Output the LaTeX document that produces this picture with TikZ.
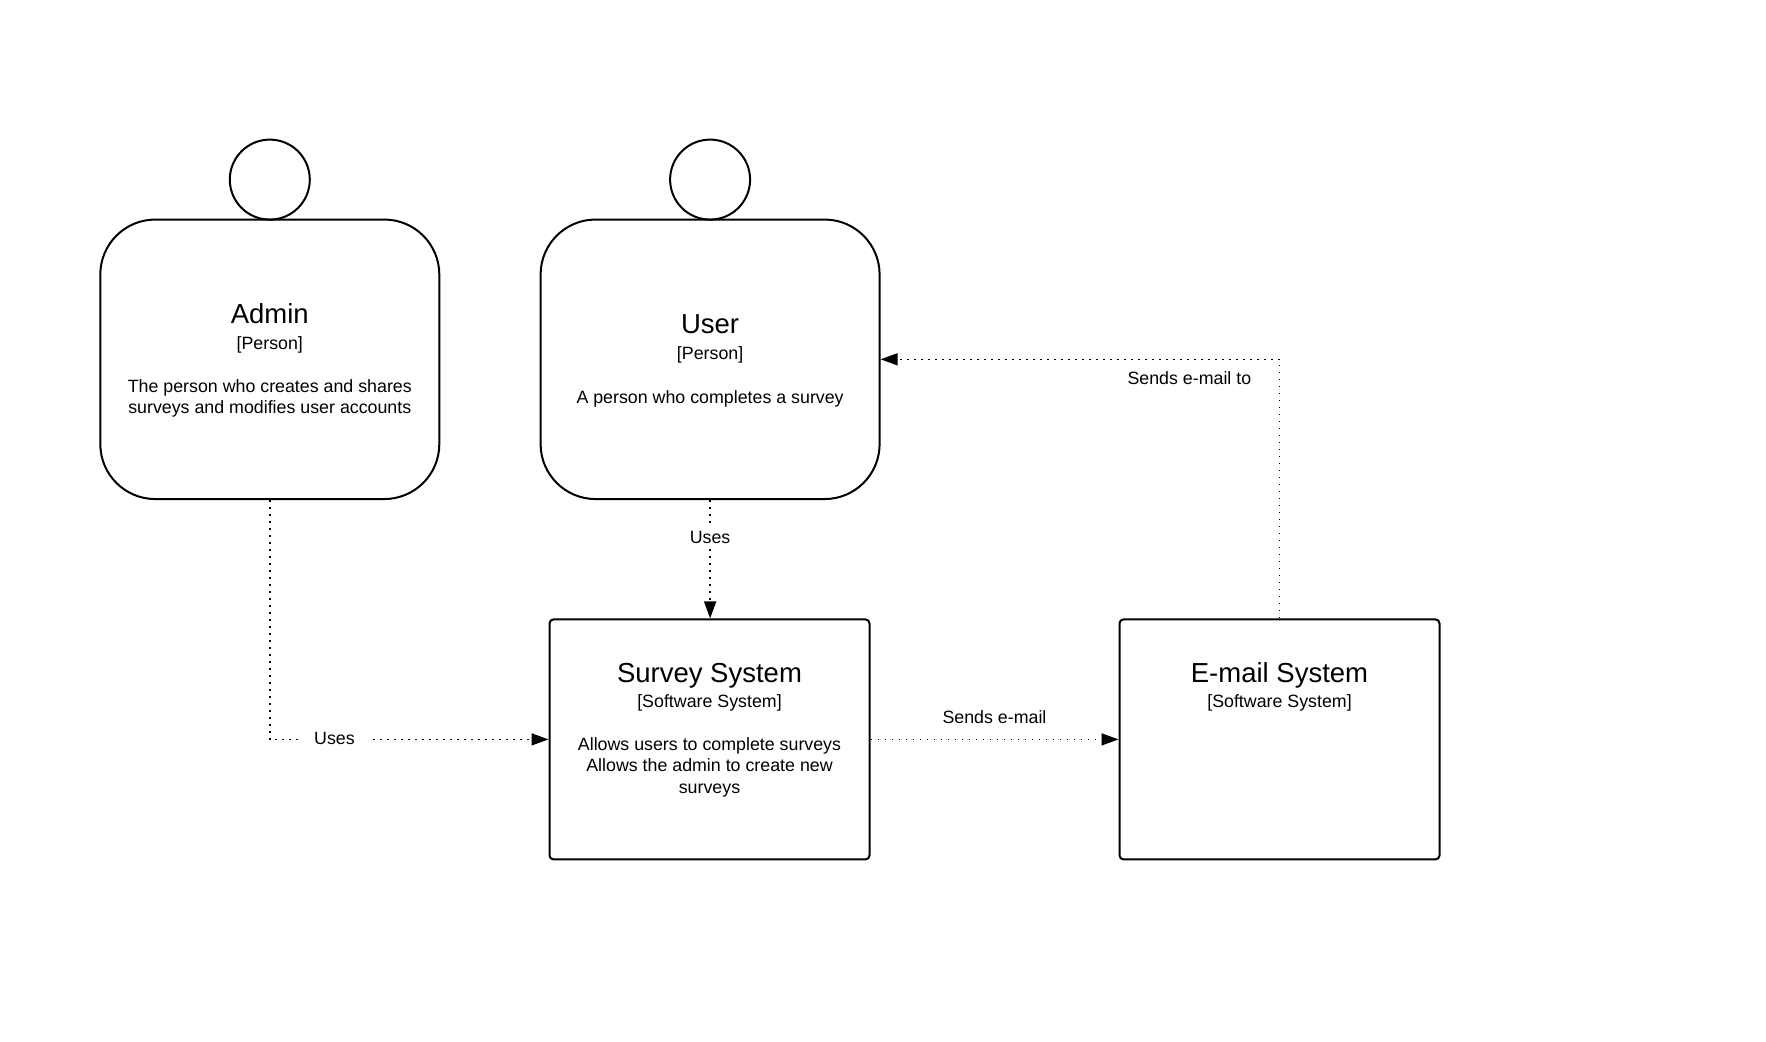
\documentclass[tikz,border=0pt]{standalone}
\usepackage{fontspec}
\setmainfont{Liberation Sans}
\usetikzlibrary{arrows.meta}
\begin{document}
\begin{tikzpicture}[x=1pt,y=-1pt,
 personbox/.style={draw, line width=2pt, rounded corners=55pt, minimum width=339pt, minimum height=279.5pt, inner sep=0pt},
 head/.style={draw, line width=2pt, circle, minimum size=80pt, inner sep=0pt},
 sysbox/.style={draw, line width=2pt, rounded corners=4pt, minimum width=320pt, minimum height=240pt, inner sep=0pt},
 ttl/.style={font=\fontsize{27.5}{33}\selectfont, inner sep=0pt},
 sub/.style={font=\fontsize{17.8}{21.4}\selectfont, align=center, inner sep=0pt},
 rel/.style={line width=1.5pt, dash pattern=on 1.5pt off 5.5pt, -{Triangle[length=17pt,width=12pt]}},
 lbl/.style={font=\fontsize{17.8}{21}\selectfont, fill=white, inner sep=4pt}
]
\useasboundingbox (0,0) rectangle (1766,1041);

% Admin
\node[personbox] (admin) at (269.8,359.3) {};
\node[head] (adminhead) at (269.8,179.6) {};
\node[ttl] (admint) at (269.8,313.5) {Admin};
\node[sub] (admins) at (269.8,345) {[Person]};
\node[sub] (admind) at (269.8,398.3) {The person who creates and shares\\surveys and modifies user accounts};

% User
\node[personbox] (user) at (710.1,359.3) {};
\node[head] (userhead) at (710.1,179.6) {};
\node[ttl] (usert) at (710.1,324.5) {User};
\node[sub] (users) at (710.1,355) {[Person]};
\node[sub] (userd) at (710.1,398.8) {A person who completes a survey};

% Survey System
\node[sysbox] (survey) at (709.5,739.4) {};
\node[ttl] (surveyt) at (709.5,675.5) {Survey System};
\node[sub] (surveys) at (709.5,702.8) {[Software System]};
\node[sub] (surveyd) at (709.5,767.3) {Allows users to complete surveys\\Allows the admin to create new\\surveys};

% E-mail System
\node[sysbox] (email) at (1279.5,739.4) {};
\node[ttl] (emailt) at (1279.5,675.5) {E-mail System};
\node[sub] (emails) at (1279.5,702.8) {[Software System]};

% Connectors
\coordinate (c1) at (admin.south |- survey.west);
\draw[rel] (admin.south) -- (c1) -- (survey.west);
\node[lbl, inner xsep=14pt] (l1) at (334.5,738.5) {Uses};

\draw[rel] (user.south) -- (user.south |- survey.north);
\node[lbl] (l2) at (710.1,537.2) {Uses};

\draw[rel] (survey.east) -- (email.west);
\node[lbl, fill=none] (l3) at (994.5,717.5) {Sends e-mail};

\coordinate (c2) at (email.north |- user.east);
\draw[rel] (email.north) -- (c2) -- (user.east);
\node[lbl, fill=none] (l4) at (1189.4,377.8) {Sends e-mail to};
\end{tikzpicture}
\end{document}
